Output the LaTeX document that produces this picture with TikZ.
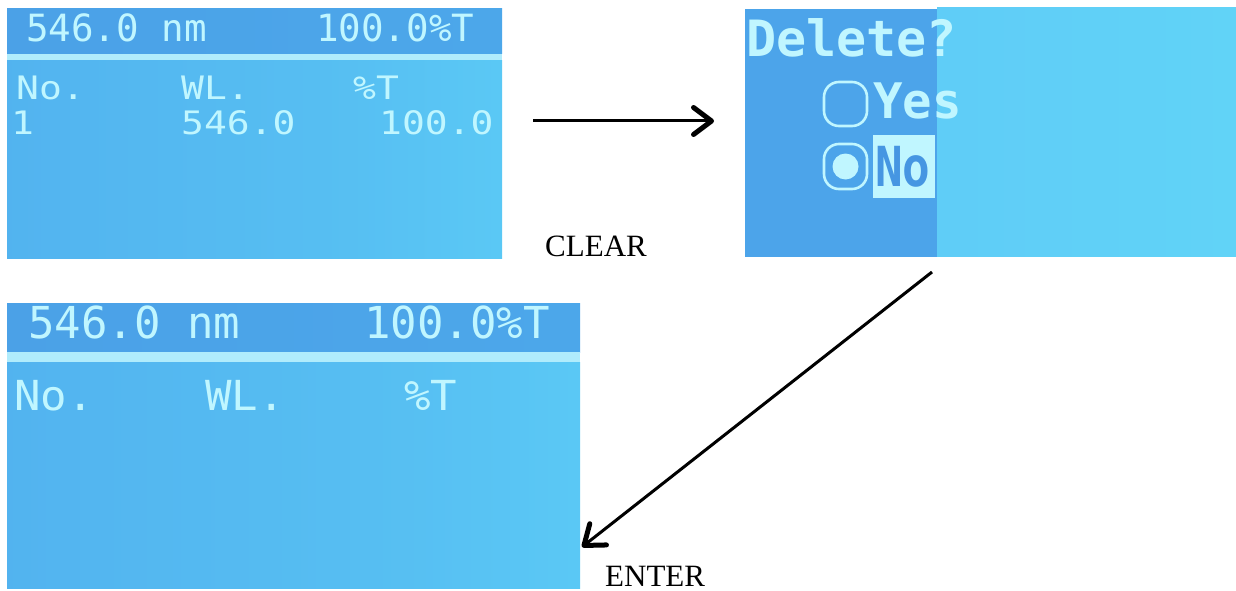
\documentclass[tikz,border=0pt]{standalone}
\usepackage{fontspec}
\setmainfont{Liberation Serif}
\newfontfamily\lcdfont{DejaVu Sans Mono}
\usetikzlibrary{arrows.meta}

% LCD palette
\definecolor{lcdbar}{RGB}{74,158,230}
\definecolor{lcdline}{RGB}{176,236,252}
\definecolor{lcdtext}{RGB}{192,246,255}
\definecolor{lcddark}{RGB}{76,164,234}
\definecolor{lcdkey}{RGB}{70,150,226}

% backlight: brighter towards the right edge
\pgfdeclarehorizontalshading{lcdglow}{100bp}{%
  rgb(0bp)=(0.31,0.67,0.93);
  rgb(60bp)=(0.34,0.75,0.95);
  rgb(90bp)=(0.37,0.82,0.97);
  rgb(97bp)=(0.42,0.90,0.98);
  rgb(100bp)=(0.47,0.96,0.98)}
\pgfdeclarehorizontalshading{barglow}{100bp}{%
  rgb(0bp)=(0.29,0.62,0.90);
  rgb(85bp)=(0.30,0.66,0.92);
  rgb(100bp)=(0.40,0.86,0.97)}
\pgfdeclarehorizontalshading{popglow}{100bp}{%
  rgb(0bp)=(0.37,0.79,0.97);
  rgb(80bp)=(0.38,0.83,0.97);
  rgb(95bp)=(0.42,0.90,0.98);
  rgb(100bp)=(0.48,0.97,0.98)}

\tikzset{
  lcd/.style={text=lcdtext, inner sep=0pt, anchor=base west, font=\lcdfont},
  lcdbold/.style={lcd, font=\lcdfont\bfseries},
  keylabel/.style={inner sep=0pt, anchor=base west, font=\fontsize{31}{31}\selectfont},
  flow/.style={line width=3pt, -{Straight Barb[length=18pt,width=27pt,line width=5pt,round]}},
}

\begin{document}
\begin{tikzpicture}[x=1pt,y=-1pt]
\useasboundingbox[fill=white] (0,0) rectangle (1236,591);

% ---- screen 1: list with one stored reading ----
\path[shading=barglow] (7,9) rectangle (502,54);
\fill[lcdline] (7,54) rectangle (502,61);
\path[shading=lcdglow] (7,61) rectangle (502,258);
\node[lcd, font=\lcdfont\fontsize{37.5}{37.5}\selectfont] (s1wl) at (26,42) {546.0 nm};
\node[lcd, font=\lcdfont\fontsize{37.5}{37.5}\selectfont] (s1t) at (316,42) {100.0\%T};
\node[lcd, font=\lcdfont\fontsize{38}{38}\selectfont] (s1hno) at (16,100) {\scalebox{1}[0.85]{No.}};
\node[lcd, font=\lcdfont\fontsize{38}{38}\selectfont] (s1hwl) at (181,100) {\scalebox{1}[0.85]{WL.}};
\node[lcd, font=\lcdfont\fontsize{38}{38}\selectfont] (s1ht) at (353,100) {\scalebox{1}[0.85]{\%T}};
\node[lcd, font=\lcdfont\fontsize{38}{38}\selectfont] (s1no) at (11,135) {\scalebox{1}[0.85]{1}};
\node[lcd, font=\lcdfont\fontsize{38}{38}\selectfont] (s1v) at (181,135) {\scalebox{1}[0.85]{546.0}};
\node[lcd, font=\lcdfont\fontsize{38}{38}\selectfont] (s1p) at (379,135) {\scalebox{1}[0.85]{100.0}};

% ---- screen 2: delete prompt ----
\fill[lcddark] (745,9) rectangle (937,257);
\path[shading=popglow] (937,8) rectangle (1236,256);
\node[lcdbold, font=\lcdfont\bfseries\fontsize{50}{50}\selectfont] (del) at (746,57) {Delete?};
\draw[lcdtext, line width=2.6pt, rounded corners=15pt] (824,82) rectangle (867,126);
\node[lcdbold, font=\lcdfont\bfseries\fontsize{49}{49}\selectfont] (yes) at (873,118) {Yes};
\draw[lcdtext, line width=2.6pt, rounded corners=15pt] (824,144) rectangle (867,189);
\fill[lcdtext] (845.5,166.5) circle[radius=13];
\fill[lcdtext] (873,135) rectangle (935,198);
\node[inner sep=0pt, anchor=base west, text=lcdkey, font=\lcdfont\bfseries\fontsize{46}{46}\selectfont] (no) at (875,186) {\scalebox{1}[1.2]{No}};

% ---- screen 3: list after clearing ----
\path[shading=barglow] (7,303) rectangle (580,352);
\fill[lcdline] (7,352) rectangle (580,362);
\path[shading=lcdglow] (7,362) rectangle (580,588);
\node[lcd, font=\lcdfont\fontsize{44}{44}\selectfont] (s3wl) at (28,338) {546.0 nm};
\node[lcd, font=\lcdfont\fontsize{44}{44}\selectfont] (s3t) at (364,338) {100.0\%T};
\node[lcd, font=\lcdfont\fontsize{44}{44}\selectfont] (s3hno) at (14,410) {\scalebox{1}[0.94]{No.}};
\node[lcd, font=\lcdfont\fontsize{44}{44}\selectfont] (s3hwl) at (205,410) {\scalebox{1}[0.94]{WL.}};
\node[lcd, font=\lcdfont\fontsize{44}{44}\selectfont] (s3ht) at (404,410) {\scalebox{1}[0.94]{\%T}};

% ---- key presses ----
\coordinate (clrFrom) at (533,121);
\coordinate (clrTo) at (714,121);
\coordinate (entFrom) at (932,272);
\coordinate (entTo) at (582,547);
\draw[flow] (clrFrom) -- (clrTo);
\draw[flow] (entFrom) -- (entTo);
\node[keylabel] (clear) at (545,256) {CLEAR};
\node[keylabel] (enter) at (605,586) {ENTER};
\end{tikzpicture}
\end{document}
